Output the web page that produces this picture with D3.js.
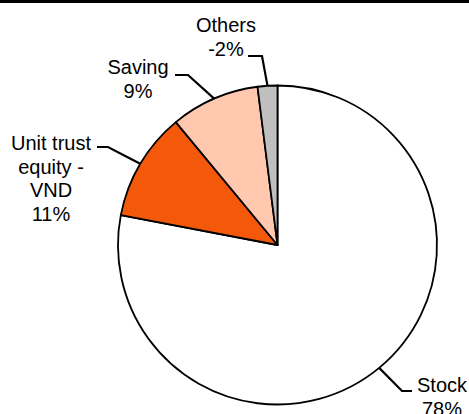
<!DOCTYPE html>
<html>
<head>
<meta charset="utf-8">
<script src="https://cdn.jsdelivr.net/npm/d3@7.9.0/dist/d3.min.js"></script>
<style>
  body { margin: 0; background: #fff; }
  svg text { font-family: "Liberation Sans", Arial, sans-serif; font-size: 20px; fill: #000; }
</style>
</head>
<body>
<svg id="chart" width="469" height="414"></svg>
<script>
// chart data
const categories = ['Stock', 'Unit trust equity - VND', 'Saving', 'Others'];
const shares = [78, 11, 9, 2];
const shareLabels = ['78%', '11%', '9%', '-2%'];
const labelLines = [['Stock'], ['Unit trust', 'equity -', 'VND'], ['Saving'], ['Others']];
const colors = ['#ffffff', '#f4590b', '#ffc8af', '#bfbfbf'];

// label layout: text centre/top baseline, elbow and end of the leader line
const labelPos = [
  { x: 442, y: 392, elbow: [402, 391], end: [412, 391] },
  { x: 51, y: 150, elbow: [108, 147], end: [97, 147] },
  { x: 138, y: 74, elbow: [188, 75], end: [175, 75] },
  { x: 226, y: 32, elbow: [262, 56], end: [248, 56] },
];

const svg = d3.select('#chart');
const cx = 277.5, cy = 245, r = 159.5;

// top rule
svg.append('rect').attr('x', 0).attr('y', 0).attr('width', 469).attr('height', 3).attr('fill', '#000');

const data = categories.map((c, i) => ({ name: c, value: shares[i], i }));
const pie = d3.pie().sort(null).value(d => d.value);
const arc = d3.arc().innerRadius(0).outerRadius(r);
const arcs = pie(data);

const g = svg.append('g').attr('transform', `translate(${cx},${cy})`);
g.selectAll('path')
  .data(arcs)
  .join('path')
  .attr('d', arc)
  .attr('fill', d => colors[d.data.i])
  .attr('stroke', '#000')
  .attr('stroke-width', 1.8)
  .attr('stroke-linejoin', 'round');

// leader lines
arcs.forEach((a, i) => {
  const mid = (a.startAngle + a.endAngle) / 2;
  const px = cx + r * Math.sin(mid);
  const py = cy - r * Math.cos(mid);
  const p = labelPos[i];
  svg.append('polyline')
    .attr('points', [[px, py], p.elbow, p.end].map(q => q.join(',')).join(' '))
    .attr('fill', 'none')
    .attr('stroke', '#000')
    .attr('stroke-width', 2.2);

  const lines = labelLines[i].concat([shareLabels[i]]);
  const t = svg.append('text').attr('text-anchor', 'middle');
  lines.forEach((s, k) => {
    t.append('tspan').attr('x', p.x).attr('y', p.y + k * 23.5).text(s);
  });
});
</script>
</body>
</html>
